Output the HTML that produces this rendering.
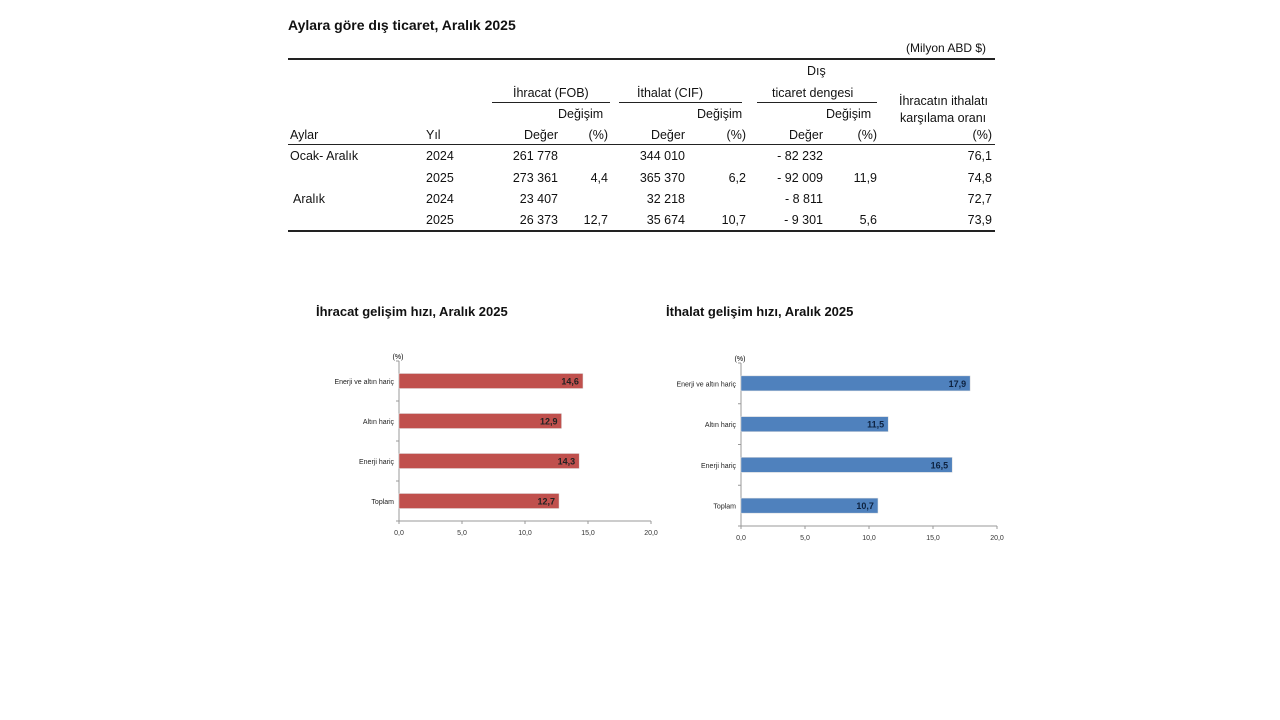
<!DOCTYPE html>
<html><head><meta charset="utf-8">
<style>
body{margin:0;width:1280px;height:720px;background:#fff;font-family:"Liberation Sans",Arial,sans-serif;position:relative;overflow:hidden;color:#111}
.t{position:absolute;font-size:12.5px;white-space:nowrap}
.r{text-align:right}
.ln{position:absolute;background:#222}
</style></head><body>
<div class="t" style="left:288px;top:17px;font-weight:bold;font-size:14px">Aylara göre dış ticaret, Aralık 2025</div>
<div class="t" style="left:906px;top:41px;font-size:12px">(Milyon ABD $)</div>
<div class="ln" style="left:288px;top:58px;width:707px;height:2px"></div>
<div class="t" style="left:807px;top:64px">Dış</div>
<div class="t" style="left:513px;top:86px">İhracat (FOB)</div>
<div class="t" style="left:637px;top:86px">İthalat (CIF)</div>
<div class="t" style="left:772px;top:86px">ticaret dengesi</div>
<div class="ln" style="left:492px;top:102px;width:118px;height:1px"></div>
<div class="ln" style="left:619px;top:102px;width:123px;height:1px"></div>
<div class="ln" style="left:757px;top:102px;width:120px;height:1px"></div>
<div class="t" style="left:899px;top:94px">İhracatın ithalatı</div>
<div class="t" style="left:900px;top:111px">karşılama oranı</div>
<div class="t" style="left:558px;top:107px">Değişim</div>
<div class="t" style="left:697px;top:107px">Değişim</div>
<div class="t" style="left:826px;top:107px">Değişim</div>
<div id="rows"></div>
<div class="ln" style="left:288px;top:144px;width:707px;height:1px"></div>
<div class="ln" style="left:288px;top:230px;width:707px;height:2px"></div>

<div class="t" style="left:316px;top:304px;font-weight:bold;font-size:13px">İhracat gelişim hızı, Aralık 2025</div>
<div class="t" style="left:666px;top:304px;font-weight:bold;font-size:13px">İthalat gelişim hızı, Aralık 2025</div>
<svg id="c1" width="1280" height="720" style="position:absolute;left:0;top:0"></svg>

<script>
const tableRows=[
 ["Aylar","Yıl","Değer","(%)","Değer","(%)","Değer","(%)","(%)"],
 ["Ocak- Aralık","2024","261 778","","344 010","","- 82 232","","76,1"],
 ["","2025","273 361","4,4","365 370","6,2","- 92 009","11,9","74,8"],
 [" Aralık","2024","23 407","","32 218","","- 8 811","","72,7"],
 ["","2025","26 373","12,7","35 674","10,7","- 9 301","5,6","73,9"]];
const rowY=[128,149,171,192,213];
const colR=[null,null,558,608,685,746,823,877,992];
const rc=document.getElementById('rows');
tableRows.forEach((r,i)=>{r.forEach((v,j)=>{if(!v)return;const d=document.createElement('div');


d.className='t';d.style.top=rowY[i]+'px';d.textContent=v;
if(j===0){d.style.left=(v.startsWith(' ')?293:290)+'px';}else if(j===1){d.style.left='426px';}
else{d.style.right=(1280-colR[j])+'px';}
rc.appendChild(d);});});

const categories=["Enerji ve altın hariç","Altın hariç","Enerji hariç","Toplam"];
const exportValues=[14.6,12.9,14.3,12.7];
const importValues=[17.9,11.5,16.5,10.7];
const exportLabels=["14,6","12,9","14,3","12,7"];
const importLabels=["17,9","11,5","16,5","10,7"];
const xTicks=[0,5,10,15,20];
const xTickLabels=["0,0","5,0","10,0","15,0","20,0"];
const NS="http://www.w3.org/2000/svg";
const svg=document.getElementById('c1');
function el(t,a){const e=document.createElementNS(NS,t);for(const k in a)e.setAttribute(k,a[k]);svg.appendChild(e);return e;}
function chart(cfg,vals,labs,color,txtColor,name){
 const x=v=>cfg.x0+v/20*(cfg.x1-cfg.x0);
 const band=(cfg.yb-cfg.yt)/categories.length;
 const ax=el('line',{x1:cfg.x0,x2:cfg.x0,y1:cfg.yt,y2:cfg.yb,stroke:'#999','stroke-width':1});
 
 
 const bx=el('line',{x1:cfg.x0,x2:cfg.x1,y1:cfg.yb,y2:cfg.yb,stroke:'#999','stroke-width':1});
 
 
 const u=el('text',{x:cfg.x0-1,y:cfg.yt-2,'font-size':7,'text-anchor':'middle','font-family':'Liberation Sans'});u.textContent='(%)';
 
 
 xTicks.forEach((t,i)=>{const tl=el('text',{x:x(t),y:cfg.yb+14,'font-size':7,'text-anchor':'middle',fill:'#333','font-family':'Liberation Sans'});tl.textContent=xTickLabels[i];
  
  
  el('line',{x1:x(t),x2:x(t),y1:cfg.yb,y2:cfg.yb+3,stroke:'#999'});});
 for(let i=0;i<=categories.length;i++)el('line',{x1:cfg.x0-3,x2:cfg.x0,y1:cfg.yt+i*band,y2:cfg.yt+i*band,stroke:'#999'});
 categories.forEach((c,i)=>{const cy=cfg.yt+band*(i+0.5);
  const r=el('rect',{x:cfg.x0,y:cy-7.5,width:x(vals[i])-cfg.x0,height:15,fill:color,stroke:'#ddd','stroke-width':0.5});
  
  
  const l=el('text',{x:cfg.x0-5,y:cy+3,'font-size':7,'text-anchor':'end',fill:'#222','font-family':'Liberation Sans'});l.textContent=c;
  
  
  const v=el('text',{x:x(vals[i])-4,y:cy+3.5,'font-size':9,'font-weight':'bold','text-anchor':'end',fill:txtColor,'font-family':'Liberation Sans'});v.textContent=labs[i];
  
  
 });
}
chart({x0:399,x1:651,yt:361,yb:521},exportValues,exportLabels,'#c0504d','#222','export');
chart({x0:741,x1:997,yt:363,yb:526},importValues,importLabels,'#4f81bd','#0d2240','import');
</script>
</body></html>
